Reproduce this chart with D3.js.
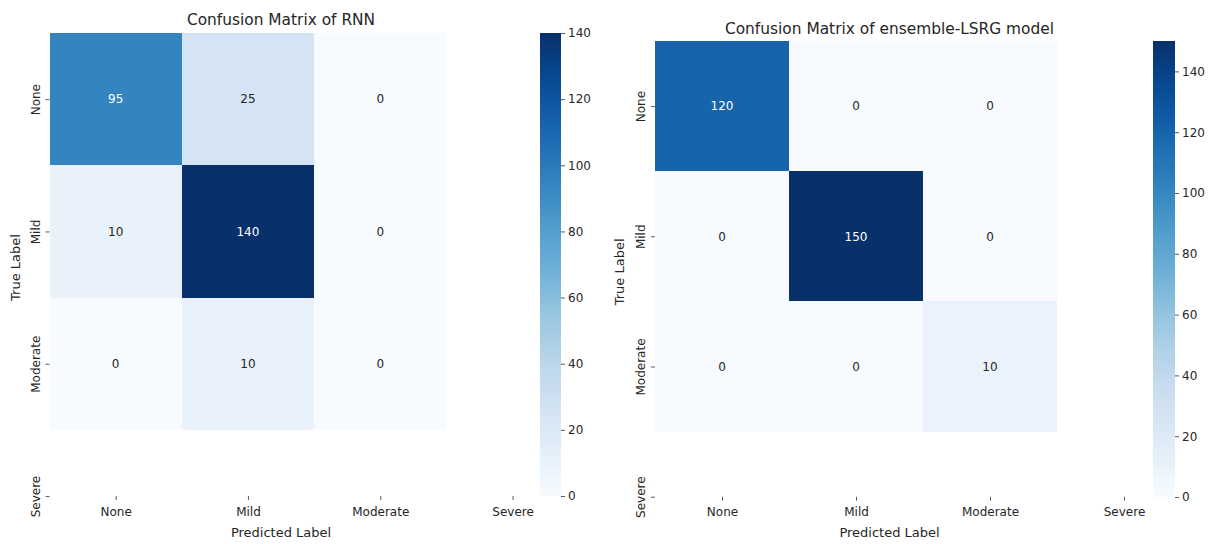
<!DOCTYPE html>
<html>
<head>
<meta charset="utf-8">
<script src="https://cdn.jsdelivr.net/npm/d3@7"></script>
<style>
  html, body { margin: 0; padding: 0; background: #fff; }
  svg text { font-family: "DejaVu Sans", sans-serif; fill: #262626; }
</style>
</head>
<body>
<svg id="chart" width="1210" height="544"></svg>
<script>
// Class labels shown on both axes (the matrices hold only the first three rows/columns)
const categories = ["None", "Mild", "Moderate", "Severe"];

// RNN confusion matrix, one array per true class
const rnnNone     = [95, 25, 0];
const rnnMild     = [10, 140, 0];
const rnnModerate = [0, 10, 0];

// ensemble-LSRG confusion matrix, one array per true class
const lsrgNone     = [120, 0, 0];
const lsrgMild     = [0, 150, 0];
const lsrgModerate = [0, 0, 10];

// Colorbar tick values
const rnnTicks  = [0, 20, 40, 60, 80, 100, 120, 140];
const lsrgTicks = [0, 20, 40, 60, 80, 100, 120, 140];

// Blues colormap: linear interpolation between the nine ColorBrewer stops
const bluesStops = ["#f7fbff", "#deebf7", "#c6dbef", "#9ecae1", "#6baed6",
                    "#4292c6", "#2171b5", "#08519c", "#08306b"];
const blues = d3.piecewise(d3.interpolateRgb, bluesStops);

const svg = d3.select("#chart");
const defs = svg.append("defs");

function drawPanel(cfg) {
  const rows = cfg.rows;
  const vmax = d3.max(rows.flat());
  const nSpan = 3.5; // axis spans 3.5 cells so the last tick sits on the edge

  const x = d3.scaleLinear().domain([0, nSpan])
    .range([cfg.left, cfg.left + nSpan * cfg.cellW]);
  const y = d3.scaleLinear().domain([0, nSpan])
    .range([cfg.top, cfg.top + nSpan * cfg.cellH]);
  const color = d3.scaleSequential(blues).domain([0, vmax]);

  const g = svg.append("g");

  // cells
  const cells = [];
  rows.forEach((row, i) => row.forEach((v, j) => cells.push({ i, j, v })));

  g.selectAll("rect.cell").data(cells).enter().append("rect")
    .attr("class", "cell")
    .attr("x", d => x(d.j))
    .attr("y", d => y(d.i))
    .attr("width", d => x(d.j + 1) - x(d.j))
    .attr("height", d => y(d.i + 1) - y(d.i))
    .attr("fill", d => color(d.v))
    .attr("shape-rendering", "crispEdges");

  // annotations
  g.selectAll("text.annot").data(cells).enter().append("text")
    .attr("class", "annot")
    .attr("x", d => x(d.j + 0.5))
    .attr("y", d => y(d.i + 0.5))
    .attr("dy", "0.36em")
    .attr("text-anchor", "middle")
    .style("font-size", "12px")
    .style("fill", d => {
      const c = d3.rgb(color(d.v));
      const lum = 0.2126 * c.r + 0.7152 * c.g + 0.0722 * c.b;
      return lum < 150 ? "#ffffff" : "#262626";
    })
    .text(d => d.v);

  const tickVals = [0.5, 1.5, 2.5, 3.5];
  const bottom = y(nSpan);

  // x axis
  const xAxis = d3.axisBottom(x).tickValues(tickVals)
    .tickFormat((d, i) => categories[i]).tickSize(4).tickPadding(7);
  const gx = g.append("g").attr("transform", `translate(0,${bottom})`).call(xAxis);
  gx.select(".domain").remove();
  gx.selectAll(".tick line").attr("stroke", "#333").attr("stroke-width", 0.8);
  gx.selectAll(".tick text").style("font-size", "12px").attr("fill", "#262626");

  // y axis with rotated labels
  const yAxis = d3.axisLeft(y).tickValues(tickVals)
    .tickFormat((d, i) => categories[i]).tickSize(4).tickPadding(6);
  const gy = g.append("g").attr("transform", `translate(${cfg.left},0)`).call(yAxis);
  gy.select(".domain").remove();
  gy.selectAll(".tick line").attr("stroke", "#333").attr("stroke-width", 0.8);
  gy.selectAll(".tick text")
    .style("font-size", "12px")
    .attr("fill", "#262626")
    .attr("text-anchor", "middle")
    .attr("x", 0)
    .attr("y", -10)
    .attr("dy", 0)
    .attr("transform", "rotate(-90)");

  // title
  const cx = (x(0) + x(nSpan)) / 2;
  g.append("text")
    .attr("x", cx).attr("y", cfg.titleY)
    .attr("text-anchor", "middle")
    .style("font-size", "15.4px")
    .text(cfg.title);

  // axis labels
  g.append("text")
    .attr("x", cx).attr("y", 537)
    .attr("text-anchor", "middle")
    .style("font-size", "13px")
    .text("Predicted Label");

  const cy = (y(0) + y(nSpan)) / 2 + 3;
  g.append("text")
    .attr("transform", `translate(${cfg.yLabelX},${cy}) rotate(-90)`)
    .attr("text-anchor", "middle")
    .style("font-size", "13px")
    .text("True Label");

  // colorbar
  const cb = cfg.cbar;
  const gradId = "grad-" + cfg.id;
  const grad = defs.append("linearGradient").attr("id", gradId)
    .attr("x1", 0).attr("y1", 1).attr("x2", 0).attr("y2", 0);
  d3.range(0, 1.0001, 0.05).forEach(t => {
    grad.append("stop").attr("offset", t).attr("stop-color", blues(t));
  });
  g.append("rect")
    .attr("x", cb.x).attr("y", cb.top)
    .attr("width", cb.w).attr("height", cb.bottom - cb.top)
    .attr("fill", `url(#${gradId})`);

  const cs = d3.scaleLinear().domain([0, vmax]).range([cb.bottom, cb.top]);
  const cAxis = d3.axisRight(cs).tickValues(cfg.ticks).tickSize(4).tickPadding(3);
  const gc = g.append("g").attr("transform", `translate(${cb.x + cb.w},0)`).call(cAxis);
  gc.select(".domain").remove();
  gc.selectAll(".tick line").attr("stroke", "#333").attr("stroke-width", 0.8);
  gc.selectAll(".tick text").style("font-size", "12px").attr("fill", "#262626");
}

drawPanel({
  id: "rnn",
  title: "Confusion Matrix of RNN",
  rows: [rnnNone, rnnMild, rnnModerate],
  ticks: rnnTicks,
  left: 49.5, top: 33, cellW: 132.3, cellH: 132.3,
  titleY: 25, yLabelX: 20,
  cbar: { x: 540, w: 21, top: 33, bottom: 496 }
});

drawPanel({
  id: "lsrg",
  title: "Confusion Matrix of ensemble-LSRG model",
  rows: [lsrgNone, lsrgMild, lsrgModerate],
  ticks: lsrgTicks,
  left: 655, top: 41, cellW: 134, cellH: 130.2,
  titleY: 34, yLabelX: 624,
  cbar: { x: 1153, w: 22, top: 41, bottom: 497 }
});
</script>
</body>
</html>
